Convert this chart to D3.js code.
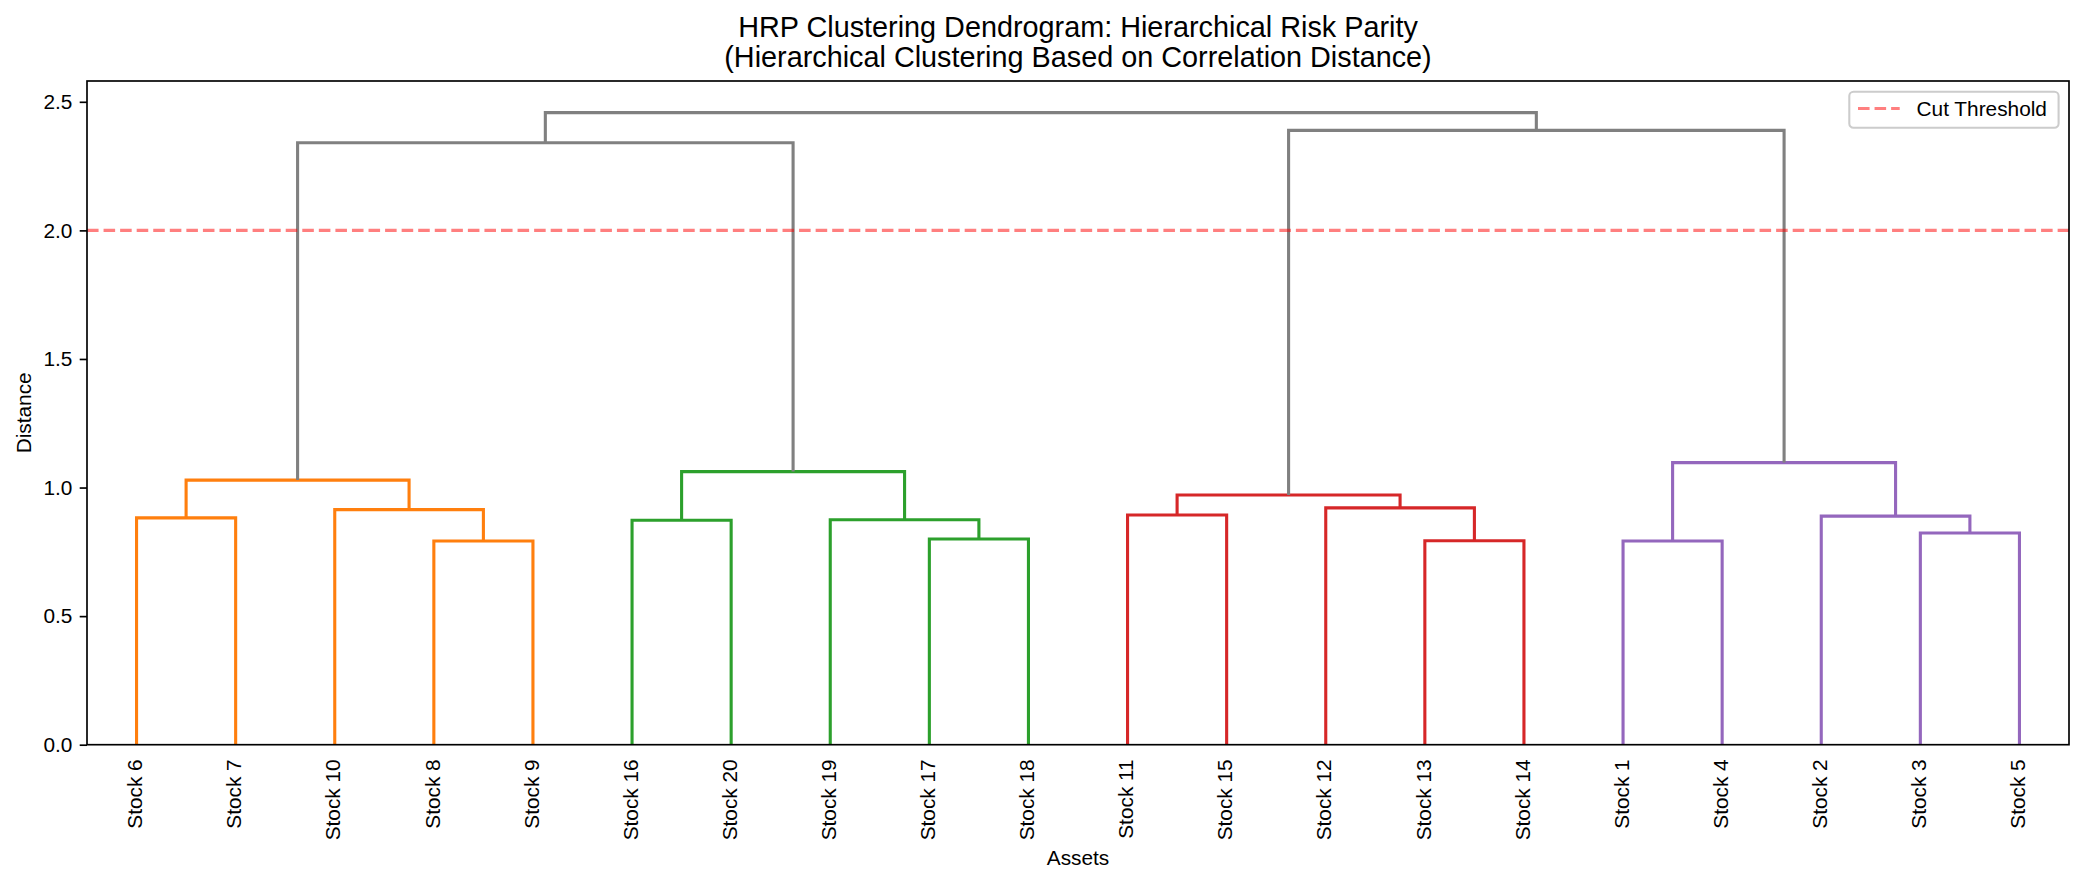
<html lang='en'>

<head>
    <title>
        HRP Clustering Dendrogram
    </title>
    <script src="https://d3js.org/d3.v7.min.js" charset="utf-8"></script>
    <style>
        body {
            margin: 0;
            background: #fff;
        }

        text {
            font-family: 'Liberation Sans', Arial, sans-serif;
            fill: #000;
        }
    </style>
</head>

<body>
    <script>
        // leaves: id i is assets[i]
        var assets = ['Stock 1', 'Stock 2', 'Stock 3', 'Stock 4', 'Stock 5',
            'Stock 6', 'Stock 7', 'Stock 8', 'Stock 9', 'Stock 10',
            'Stock 11', 'Stock 12', 'Stock 13', 'Stock 14', 'Stock 15',
            'Stock 16', 'Stock 17', 'Stock 18', 'Stock 19', 'Stock 20'];

        // linkage rows [left id, right id, distance]; row k makes node 20 + k
        var linkage = [
            [5, 6, 0.882],    // 20: 6-7
            [7, 8, 0.792],    // 21: 8-9
            [9, 21, 0.914],   // 22: 10-(8,9)
            [20, 22, 1.029],  // 23
            [15, 19, 0.873],  // 24: 16-20
            [16, 17, 0.800],  // 25: 17-18
            [18, 25, 0.875],  // 26: 19-(17,18)
            [24, 26, 1.062],  // 27
            [23, 27, 2.341],  // 28
            [10, 14, 0.893],  // 29: 11-15
            [12, 13, 0.793],  // 30: 13-14
            [11, 30, 0.921],  // 31: 12-(13,14)
            [29, 31, 0.971],  // 32
            [0, 3, 0.792],    // 33: 1-4
            [2, 4, 0.823],    // 34: 3-5
            [1, 34, 0.889],   // 35: 2-(3,5)
            [33, 35, 1.097],  // 36
            [32, 36, 2.389],  // 37
            [28, 37, 2.458]   // 38: root
        ];

        var cutThreshold = 2.0;
        var clusterColors = ['#ff7f0e', '#2ca02c', '#d62728', '#9467bd'];
        var aboveColor = '#808080';
        var yTicks = [0, 0.5, 1.0, 1.5, 2.0, 2.5];
        var titleLines = ['HRP Clustering Dendrogram: Hierarchical Risk Parity',
            '(Hierarchical Clustering Based on Correlation Distance)'];

        // canvas
        var width = 2085, height = 886;
        var axL = 87, axR = 2069, axT = 81, axB = 744.7;
        var fs = 20.83;

        var svg = d3.select('body')
            .append('svg')
            .attr('width', width)
            .attr('height', height);

        var n = assets.length;
        var root = n + linkage.length - 1;

        // leaf order from the tree
        var order = [];
        function walk(id) {
            if (id < n) { order.push(id); return; }
            walk(linkage[id - n][0]);
            walk(linkage[id - n][1]);
        }
        walk(root);

        var posX = {};
        order.forEach(function (id, i) { posX[id] = 5 + 10 * i; });
        function nodeX(id) {
            if (posX[id] === undefined) {
                var r = linkage[id - n];
                posX[id] = (nodeX(r[0]) + nodeX(r[1])) / 2;
            }
            return posX[id];
        }
        function nodeH(id) { return id < n ? 0 : linkage[id - n][2]; }
        nodeX(root);

        // colours: one per cluster below the cut, grey above
        var colorOf = {}, ci = 0;
        function paint(id, c) {
            colorOf[id] = c;
            if (id >= n) { paint(linkage[id - n][0], c); paint(linkage[id - n][1], c); }
        }
        function assign(id) {
            if (id < n) return;
            var r = linkage[id - n];
            colorOf[id] = aboveColor;
            [r[0], r[1]].forEach(function (ch) {
                if (ch >= n && nodeH(ch) <= cutThreshold) paint(ch, clusterColors[ci++ % clusterColors.length]);
                else assign(ch);
            });
        }
        assign(root);

        // scales
        var maxH = d3.max(linkage, function (d) { return d[2]; });
        var x = d3.scaleLinear().domain([0, n * 10]).range([axL, axR]);
        var y = d3.scaleLinear().domain([0, maxH * 1.05]).range([axB, axT]);

        // links
        var line = d3.line().x(function (p) { return x(p[0]); }).y(function (p) { return y(p[1]); });
        var links = linkage.map(function (r, k) {
            var id = n + k, a = r[0], b = r[1];
            return {
                id: id,
                pts: [[nodeX(a), nodeH(a)], [nodeX(a), r[2]], [nodeX(b), r[2]], [nodeX(b), nodeH(b)]]
            };
        });
        svg.append('g').selectAll('path').data(links).enter()
            .append('path')
            .attr('d', function (d) { return line(d.pts); })
            .attr('fill', 'none')
            .attr('stroke', function (d) { return colorOf[d.id]; })
            .attr('stroke-width', 3.1)
            .attr('stroke-linejoin', 'miter')
            .attr('stroke-linecap', 'butt');

        // threshold
        svg.append('line')
            .attr('x1', x(0)).attr('x2', x(n * 10))
            .attr('y1', y(cutThreshold)).attr('y2', y(cutThreshold))
            .attr('stroke', 'rgba(255,0,0,0.5)')
            .attr('stroke-width', 3.1)
            .attr('stroke-dasharray', '11.56,5');

        // y axis
        var yAxis = svg.append('g')
            .attr('transform', 'translate(' + axL + ',0)')
            .call(d3.axisLeft(y).tickValues(yTicks).tickFormat(d3.format('.1f'))
                .tickSize(7.3).tickPadding(7.3).tickSizeOuter(0));
        yAxis.select('.domain').remove();
        yAxis.selectAll('line').attr('stroke', '#000').attr('stroke-width', 1.67);
        yAxis.selectAll('text').attr('font-size', fs).attr('font-family', null);

        // x axis, tick marks hidden, labels rotated
        var xAxis = svg.append('g')
            .attr('transform', 'translate(0,' + axB + ')')
            .call(d3.axisBottom(x).tickValues(order.map(function (id) { return posX[id]; }))
                .tickFormat(function (v, i) { return assets[order[i]]; })
                .tickSize(0).tickSizeOuter(0));
        xAxis.select('.domain').remove();
        xAxis.selectAll('text')
            .attr('font-size', fs).attr('font-family', null)
            .attr('transform', 'rotate(-90)')
            .attr('text-anchor', 'end')
            .attr('x', -14.6).attr('y', 0).attr('dy', '0.25em');

        // spines
        svg.append('rect')
            .attr('x', axL).attr('y', axT)
            .attr('width', axR - axL).attr('height', axB - axT)
            .attr('fill', 'none').attr('stroke', '#000').attr('stroke-width', 1.67);

        // labels
        svg.append('text').attr('x', (axL + axR) / 2).attr('y', 865)
            .attr('text-anchor', 'middle').attr('font-size', fs).text('Assets');
        svg.append('text')
            .attr('transform', 'translate(30.5,' + (axT + axB) / 2 + ') rotate(-90)')
            .attr('text-anchor', 'middle').attr('font-size', fs).text('Distance');

        svg.append('g').selectAll('text').data(titleLines).enter()
            .append('text')
            .attr('x', (axL + axR) / 2)
            .attr('y', function (d, i) { return 37 + i * 30; })
            .attr('text-anchor', 'middle')
            .attr('font-size', 28.8)
            .text(function (d) { return d; });

        // legend
        var lg = svg.append('g');
        lg.append('rect')
            .attr('x', 1849.3).attr('y', 91.7).attr('width', 209.3).attr('height', 36)
            .attr('rx', 4.2).attr('fill', 'rgba(255,255,255,0.8)')
            .attr('stroke', '#cccccc').attr('stroke-width', 2.08);
        lg.append('line')
            .attr('x1', 1858).attr('x2', 1899.7).attr('y1', 108.5).attr('y2', 108.5)
            .attr('stroke', 'rgba(255,0,0,0.5)').attr('stroke-width', 3.1)
            .attr('stroke-dasharray', '11.56,5');
        lg.append('text').attr('x', 1916.5).attr('y', 115.5)
            .attr('font-size', fs).text('Cut Threshold');
    </script>
</body>

</html>
